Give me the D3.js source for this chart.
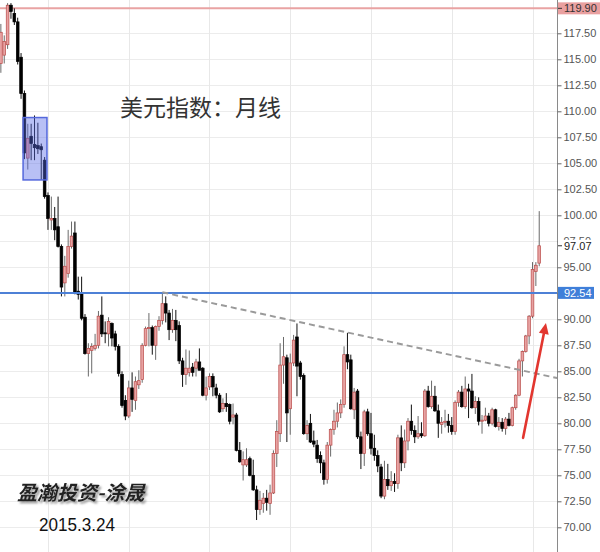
<!DOCTYPE html>
<html><head><meta charset="utf-8">
<script src="https://cdn.jsdelivr.net/npm/d3@7"></script>
<style>html,body{margin:0;padding:0;background:#fff;} svg{display:block;}</style>
</head><body><svg id="c" width="600" height="552"></svg>
<script>
// Monthly US Dollar Index candles, Nov 2001 .. Mar 2015
const startDate = new Date(2001, 10, 1);
const open  = [114.6,115.4,116.4,120.2,119.4,118.6,115.2,111.7,105.5,107.6,106.8,106.7,106.6,105.3,101.9,99.55,99.7,98.9,97.0,93.5,94.4,97.0,98.3,92.7,92.5,90.2,86.7,87.0,87.2,87.5,90.4,88.7,88.6,89.6,88.6,87.4,84.7,82.2,80.7,83.4,82.2,83.7,84.2,87.5,89.1,89.2,87.5,89.3,89.9,91.5,90.6,89.0,89.9,89.4,86.0,84.7,84.9,85.4,85.3,85.9,85.3,82.7,83.5,84.5,83.4,82.7,81.4,81.9,81.8,80.6,80.8,77.4,76.0,76.0,76.6,75.0,73.6,71.7,72.3,72.8,72.3,73.3,77.1,79.0,85.6,86.3,81.4,85.8,88.3,85.8,84.6,79.0,80.0,78.3,77.9,76.9,76.2,74.6,77.9,79.4,80.2,81.0,81.8,86.6,86.1,81.3,83.1,78.7,77.1,81.1,79.0,77.6,76.9,75.8,73.0,74.6,74.0,74.4,74.2,78.6,76.2,78.3,80.2,79.3,78.7,79.0,78.8,83.1,81.6,82.6,81.2,79.9,80.1,80.2,79.8,79.2,82.0,83.0,81.6,83.3,83.1,81.5,82.1,80.2,80.3,80.7,80.0,81.3,79.7,80.1,79.5,80.4,79.8,81.5,82.7,86.0,86.9,88.4,90.3,94.6,95.4];
const high  = [118.4,117.3,120.4,120.4,119.9,119.0,115.6,112.0,108.8,108.8,109.6,108.9,106.9,105.6,102.2,101.8,100.8,101.8,97.2,96.1,98.6,99.4,99.4,94.1,94.1,90.5,87.7,87.7,88.6,90.8,92.2,89.8,90.2,89.7,88.9,87.6,85.0,82.7,84.1,84.9,84.5,85.1,87.7,89.3,90.6,89.4,89.4,90.3,92.6,92.2,90.9,91.0,90.9,89.8,86.3,87.1,87.0,85.8,86.2,87.2,85.4,84.5,84.8,84.8,83.8,82.9,82.4,82.9,81.9,81.9,81.0,78.2,77.3,77.6,76.8,76.5,74.0,73.5,73.3,73.6,74.1,77.4,80.3,87.7,88.3,86.6,86.7,88.5,89.6,86.0,84.8,80.3,80.9,79.3,78.4,77.3,76.5,78.2,79.5,81.3,82.0,82.3,87.4,88.7,86.6,83.4,83.3,79.2,81.3,81.4,81.0,78.9,77.4,76.1,76.4,76.1,75.4,75.2,78.9,79.8,79.4,80.5,81.8,79.8,80.7,80.1,83.3,83.6,84.1,83.6,81.8,80.6,81.3,80.9,80.6,82.2,83.2,83.6,84.5,83.8,84.75,82.6,82.5,80.8,81.5,81.0,81.5,81.4,80.6,80.5,80.6,81.0,81.6,82.8,86.2,87.0,88.5,90.4,95.5,95.5,100.4];
const low   = [113.7,114.6,116.0,118.9,118.3,114.5,111.2,105.4,104.4,105.3,105.3,105.9,103.4,101.6,98.6,98.6,97.6,96.9,92.2,92.2,94.0,96.8,92.4,91.9,89.9,86.6,84.5,84.8,87.0,87.2,88.3,87.7,87.4,87.4,87.0,84.5,81.5,80.3,80.5,81.1,81.3,83.3,83.9,87.4,87.4,86.6,86.1,88.9,89.5,89.7,88.0,88.7,87.9,85.7,83.5,83.7,84.5,84.5,84.5,85.1,82.6,82.2,83.2,82.6,82.4,81.0,81.1,81.1,79.9,79.9,77.3,76.2,74.5,75.8,74.9,73.5,70.7,71.2,71.4,71.6,71.2,73.2,75.8,78.2,83.8,78.2,78.9,85.5,82.6,84.2,78.9,78.4,78.1,77.7,76.2,75.2,74.1,74.2,76.8,78.9,79.6,80.5,81.5,85.2,81.3,80.4,78.5,75.6,75.9,78.8,77.0,76.4,75.3,72.8,72.7,73.6,73.5,73.4,73.7,75.4,75.7,77.4,78.9,78.1,78.5,78.6,78.7,81.5,81.4,81.1,78.6,79.0,79.6,79.1,78.9,78.9,81.6,81.5,81.4,80.5,81.4,80.9,79.8,79.0,80.2,79.7,79.8,79.6,79.3,79.2,78.9,79.7,79.7,81.3,82.6,84.5,86.8,87.6,90.1,93.2,95.1];
const close = [117.6,116.7,120.2,119.6,118.6,114.8,111.7,106.0,107.4,106.9,106.5,106.4,106.3,101.8,99.7,99.7,98.6,97.0,93.1,95.1,97.0,98.0,92.5,92.4,90.1,86.7,87.2,87.4,87.5,90.3,88.6,88.6,89.8,88.2,87.4,84.8,81.7,80.7,83.4,82.3,84.0,84.1,87.5,89.1,89.2,87.5,89.3,89.9,91.5,90.6,89.0,89.9,89.0,86.0,84.7,85.3,85.3,84.9,85.9,85.1,82.7,83.4,84.5,83.5,82.7,81.1,81.9,81.6,80.2,80.8,77.4,76.3,76.5,76.5,75.0,73.6,71.7,72.6,72.8,72.4,73.3,77.1,79.2,85.6,86.4,81.0,85.8,88.0,85.5,84.5,79.0,79.8,78.2,78.0,76.6,76.2,74.6,77.9,79.4,80.2,81.0,81.8,86.6,85.9,81.4,83.0,78.7,77.1,81.1,79.0,77.6,76.9,75.9,73.0,74.6,74.0,74.4,74.2,78.6,76.2,78.3,80.2,79.3,78.7,79.0,78.8,83.1,81.6,82.6,81.2,80.0,80.1,80.2,79.8,79.2,82.0,83.0,81.6,83.3,83.1,81.5,82.1,80.2,80.3,80.7,80.0,81.3,79.7,80.1,79.5,80.4,79.8,81.5,82.7,86.0,86.9,88.4,90.3,94.8,95.2,97.07];
const yTicks = [70,72.5,75,77.5,80,82.5,85,87.5,90,92.5,95,97.5,100,102.5,105,107.5,110,112.5,115,117.5];
const resistanceLevel = 119.90;
const supportLevel = 92.54;
const lastPrice = 97.07;
const trendLine = [{i:48, v:92.6}, {i:165.3, v:84.35}];
const boxRange = {i0:6.6, i1:13.7, v0:103.4, v1:109.4};
const arrowPts = {i0:155.2, v0:78.6, i1:162.0, v1:89.65};
const titleText = "美元指数：月线";
const authorText = "盈瀚投资-涂晟";
const dateText = "2015.3.24";

const W = 600, H = 552, axisX = 557;
const svg = d3.select("#c");
const x = d3.scaleLinear().domain([2, 158]).range([7.6, 532.5]);
const y = d3.scaleLinear().domain([70, 117.5]).range([527.3, 33.3]);
const fmt = d3.format(".2f");
const data = open.map((o,i)=>({i, date:d3.timeMonth.offset(startDate,i), o, h:high[i], l:low[i], c:close[i]}));

// defs
const defs = svg.append("defs");
const f = defs.append("filter").attr("id","sh").attr("x","-10%").attr("y","-30%").attr("width","130%").attr("height","180%");
f.append("feDropShadow").attr("dx",2).attr("dy",2).attr("stdDeviation",1.2).attr("flood-color","#777").attr("flood-opacity",0.8);

// grid
const grid = svg.append("g");
grid.selectAll("line.h").data(yTicks).join("line")
  .attr("x1",0).attr("x2",axisX).attr("y1",d=>Math.round(y(d))+0.5).attr("y2",d=>Math.round(y(d))+0.5)
  .attr("stroke","#ececec").attr("stroke-width",1);
const vgrid = data.filter(d=>d.date.getMonth()===0 && d.date.getFullYear()%2===1);
grid.selectAll("line.v").data(vgrid).join("line")
  .attr("x1",d=>Math.round(x(d.i))+0.5).attr("x2",d=>Math.round(x(d.i))+0.5).attr("y1",0).attr("y2",H)
  .attr("stroke","#e8e8e8").attr("stroke-width",1);

// reference lines
svg.append("line").attr("x1",0).attr("x2",axisX).attr("y1",y(resistanceLevel)).attr("y2",y(resistanceLevel))
  .attr("stroke","#e9a3a3").attr("stroke-width",2);

// candles
const bw = 2.7;
const cg = svg.append("g");
cg.selectAll("line.w").data(data).join("line")
  .attr("x1",d=>x(d.i)).attr("x2",d=>x(d.i)).attr("y1",d=>y(d.h)).attr("y2",d=>y(d.l))
  .attr("stroke",d=>d.c>=d.o?"#6a6a6a":"#111").attr("stroke-width",1);
cg.selectAll("rect.b").data(data).join("rect")
  .attr("x",d=>x(d.i)-bw/2).attr("width",bw)
  .attr("y",d=>y(Math.max(d.o,d.c))).attr("height",d=>Math.max(1,Math.abs(y(d.o)-y(d.c))))
  .attr("fill",d=>d.c>=d.o?"#e7a2a2":"#000")
  .attr("stroke",d=>d.c>=d.o?"#b94a48":"#000").attr("stroke-width",0.7);

// support line
svg.append("line").attr("x1",0).attr("x2",axisX).attr("y1",y(supportLevel)).attr("y2",y(supportLevel))
  .attr("stroke","#4d80d6").attr("stroke-width",2);

// blue box
svg.append("rect").attr("x",x(boxRange.i0)).attr("y",y(boxRange.v1))
  .attr("width",x(boxRange.i1)-x(boxRange.i0)).attr("height",y(boxRange.v0)-y(boxRange.v1))
  .attr("fill","rgba(85,105,230,0.42)").attr("stroke","#5468dc").attr("stroke-width",1.5);

// trend line
svg.append("line").attr("x1",x(trendLine[0].i)).attr("y1",y(trendLine[0].v))
  .attr("x2",x(trendLine[1].i)).attr("y2",y(trendLine[1].v))
  .attr("stroke","#9a9a9a").attr("stroke-width",2).attr("stroke-dasharray","6,4");

// arrow
{
  const ax0=x(arrowPts.i0), ay0=y(arrowPts.v0), ax1=x(arrowPts.i1), ay1=y(arrowPts.v1);
  const ang=Math.atan2(ay1-ay0, ax1-ax0), L=11, Wd=5;
  const bx=ax1-L*Math.cos(ang), by=ay1-L*Math.sin(ang);
  svg.append("line").attr("x1",ax0).attr("y1",ay0).attr("x2",bx).attr("y2",by)
    .attr("stroke","#e2362f").attr("stroke-width",2.6).attr("stroke-linecap","round");
  const px=-Math.sin(ang), py=Math.cos(ang);
  svg.append("polygon").attr("points",[[ax1,ay1],[bx+px*Wd,by+py*Wd],[bx-px*Wd,by-py*Wd]].map(p=>p.join(",")).join(" "))
    .attr("fill","#e2362f");
}

// axis
svg.append("line").attr("x1",axisX+0.5).attr("x2",axisX+0.5).attr("y1",0).attr("y2",H).attr("stroke","#8a8a8a");
const ax = svg.append("g").attr("transform",`translate(${axisX+0.5},0)`)
  .call(d3.axisRight(y).tickValues(yTicks).tickSize(4).tickPadding(2).tickFormat(fmt));
ax.select(".domain").remove();
ax.selectAll(".tick line").attr("stroke","#666");
ax.selectAll(".tick text").attr("fill","#555").style("font-family","'Liberation Sans', Arial, sans-serif").style("font-size","11px");

function tagLabel(v, bg, fg, w){
  const yy=y(v);
  const g=svg.append("g");
  g.append("rect").attr("x",axisX+1).attr("y",yy-6).attr("width",w).attr("height",12).attr("fill",bg);
  g.append("line").attr("x1",axisX+1).attr("x2",axisX+5).attr("y1",yy).attr("y2",yy).attr("stroke",fg==="#fff"?bg:"#333");
  g.append("text").attr("x",axisX+7).attr("y",yy).attr("dy","0.35em").attr("fill",fg)
    .style("font-family","'Liberation Sans', Arial, sans-serif").style("font-size","11px").text(fmt(v));
}
tagLabel(resistanceLevel, "#e9a0a0", "#333", 43);
tagLabel(supportLevel, "#3f7fd9", "#fff", 36);
tagLabel(lastPrice, "#fff", "#222", 36);

// texts
svg.append("text").attr("x",120).attr("y",116).attr("fill","#333")
  .style("font-family","'Noto Sans CJK SC', sans-serif").style("font-size","23px").text(titleText);
svg.append("text").attr("x",17).attr("y",500).attr("fill","#222").attr("filter","url(#sh)")
  .style("font-family","'Noto Sans CJK SC', sans-serif").style("font-size","20px")
  .style("font-style","italic").style("font-weight","bold").text(authorText);
svg.append("text").attr("x",39).attr("y",531).attr("fill","#111")
  .attr("textLength",76).attr("lengthAdjust","spacingAndGlyphs")
  .style("font-family","'Liberation Sans', Arial, sans-serif").style("font-size","19px").text(dateText);
</script></body></html>
